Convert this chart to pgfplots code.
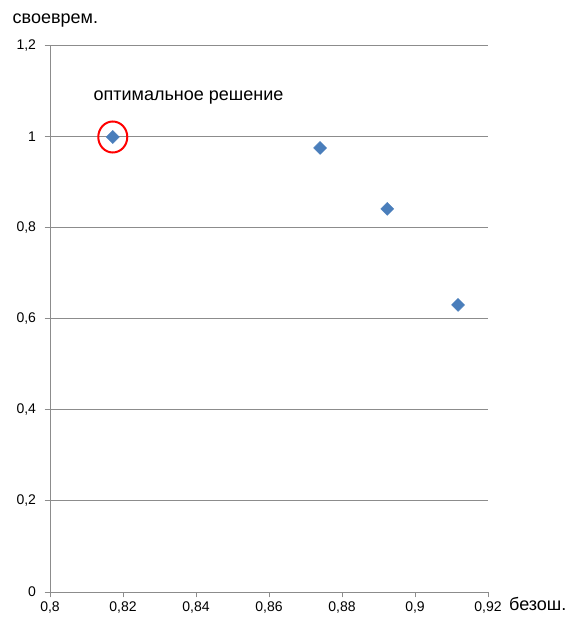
\documentclass[border=0pt]{standalone}
\usepackage{pgfplots}
\pgfplotsset{compat=1.18}
\usepackage{fontspec}
\setmainfont{Liberation Sans}
\definecolor{markblue}{HTML}{4A7EBB}
\definecolor{gridgray}{HTML}{8C8C8C}

\begin{document}
\begin{tikzpicture}[x=1pt,y=1pt]
\useasboundingbox (0,0) rectangle (568,622);
\begin{axis}[
  at={(50pt,30pt)}, anchor=origin,
  scale only axis,
  width=438pt, height=546pt,
  xmin=0.8, xmax=0.92, ymin=0, ymax=1.2,
  xtick={0.8,0.82,0.84,0.86,0.88,0.9,0.92},
  ytick={0,0.2,0.4,0.6,0.8,1,1.2},
  axis lines*=left,
  axis line style={gridgray, line width=1pt},
  ymajorgrids,
  grid style={gridgray, line width=1pt},
  tick align=outside,
  major tick length=5.5pt,
  tick style={gridgray, line width=1pt},
  /pgf/number format/assume math mode=true,
  /pgf/number format/use comma,
  /pgf/number format/fixed,
  /pgf/number format/precision=2,
  ticklabel style={font=\fontsize{14}{16}\selectfont, black},
  xticklabel style={yshift=-1pt},
  yticklabel style={xshift=-5pt},
  xlabel={безош.},
  ylabel={своеврем.},
  every axis x label/.style={at={(axis description cs:1,0)}, anchor=base west,
    inner sep=0pt, xshift=21pt, yshift=-18.5pt, font=\fontsize{18}{20}\selectfont},
  every axis y label/.style={at={(axis description cs:0,1)}, anchor=base west,
    inner sep=0pt, xshift=-37.5pt, yshift=22pt, font=\fontsize{18}{20}\selectfont},
  clip=false,
]
\addplot[only marks, mark=square*, mark size=4.6pt,
  mark options={rotate=45, fill=markblue, draw=markblue}]
  coordinates {
    (0.8172,1.000)
    (0.8740,0.976)
    (0.8924,0.842)
    (0.9118,0.631)
  };
% highlight around the chosen solution
\draw[red, line width=2pt] (axis cs:0.8172,1.0) ellipse [x radius=14.5pt, y radius=15.5pt];
\node[anchor=base, inner sep=0pt, font=\fontsize{18}{20}\selectfont]
  at (axis cs:0.83795,1.081) {оптимальное решение};
\end{axis}
\end{tikzpicture}
\end{document}
